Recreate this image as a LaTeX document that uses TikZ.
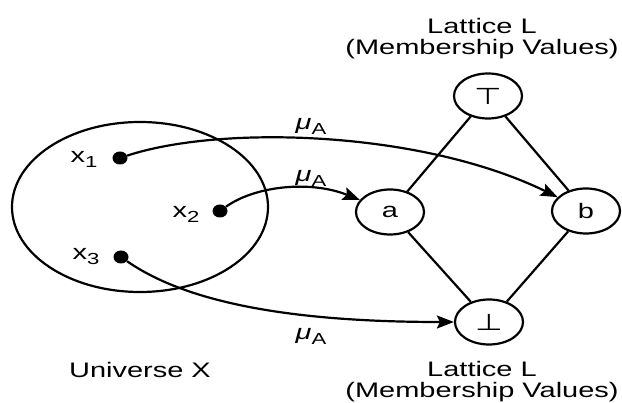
\documentclass[tikz,border=0pt]{standalone}
\usepackage{fontspec}
\usepackage{graphicx}
\setmainfont{Liberation Sans}
\newfontfamily\symfont{DejaVu Sans}
\usetikzlibrary{shapes.geometric,arrows.meta}

% wide lettering and lowered subscripts
\newcommand\hs[1]{\scalebox{1.38}[1]{#1}}
\newcommand\lowsub[1]{\raisebox{-0.45ex}{\fontsize{16}{16}\selectfont #1}}

\begin{document}
\begin{tikzpicture}[x=1pt,y=-1pt,
  every node/.style={font=\fontsize{21}{21}\selectfont},
  elem/.style={ellipse,draw,line width=2.2pt,minimum width=68pt,minimum height=45pt,inner sep=0pt},
  dot/.style={ellipse,fill,minimum width=15pt,minimum height=13pt,inner sep=0pt},
  conn/.style={line width=2.2pt},
  map/.style={line width=2.2pt,-{Stealth[length=17pt,width=13pt,inset=3pt]}},
  lbl/.style={align=center,inner sep=0pt}]
  \useasboundingbox (0,0) rectangle (622,403);
  \fill[white] (0,0) rectangle (622,403);

  % universe
  \draw[line width=2.2pt] (140,207) ellipse [x radius=128pt,y radius=85pt];
  \node[dot] (x1) at (120,158) {};
  \node[dot] (x2) at (220,211) {};
  \node[dot] (x3) at (121,257) {};
  \node[lbl] (lx1) at (84,159) {\hs{x\lowsub{1}}};
  \node[lbl] (lx2) at (186,214) {\hs{x\lowsub{2}}};
  \node[lbl] (lx3) at (86,257) {\hs{x\lowsub{3}}};
  \node[lbl] (univ) at (140,370) {\hs{Universe X}};

  % lattice
  \node[elem] (top) at (488,96) {\symfont\fontsize{23}{23}\selectfont\hs{⊤}};
  \node[elem] (a) at (390,212) {\hs{a}};
  \node[elem] (b) at (586,211) {\hs{b}};
  \node[elem] (bot) at (489,322) {\symfont\fontsize{23}{23}\selectfont\hs{⊥}};
  \draw[conn] (top) -- (a);
  \draw[conn] (top) -- (b);
  \draw[conn] (a) -- (bot);
  \draw[conn] (b) -- (bot);
  \node[lbl] (ltop) at (482,39) {\hs{Lattice L}\\\hs{(Membership Values)}};
  \node[lbl] (lbot) at (482,382) {\hs{Lattice L}\\\hs{(Membership Values)}};

  % membership mappings
  \draw[map] (x1) .. controls (220,125) and (420,130) .. (b);
  \draw[map] (x2) .. controls (255,186) and (310,180) .. (a);
  \draw[map] (x3) .. controls (190,305) and (300,322) .. (bot);
  \node[lbl] (m1) at (311,126) {\hs{\textit{μ}\lowsub{A}}};
  \node[lbl] (m2) at (311,178) {\hs{\textit{μ}\lowsub{A}}};
  \node[lbl] (m3) at (311,336) {\hs{\textit{μ}\lowsub{A}}};
\end{tikzpicture}
\end{document}
